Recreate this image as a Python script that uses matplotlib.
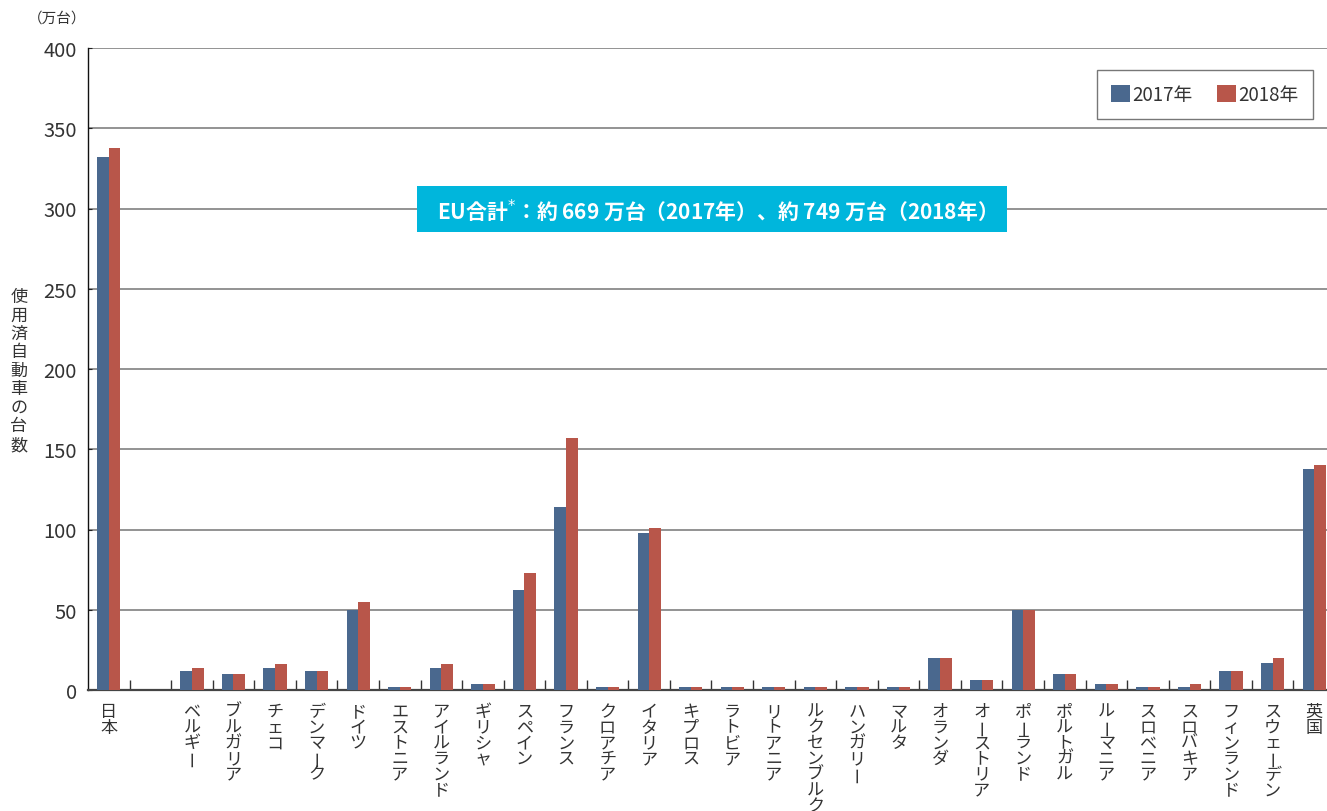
import matplotlib
matplotlib.use("Agg")
import matplotlib.pyplot as plt
import matplotlib.transforms as mtransforms
from matplotlib.patches import Rectangle
from matplotlib.textpath import TextPath
from matplotlib.font_manager import FontProperties
import numpy as np

plt.rcParams['font.family'] = ['Noto Sans CJK JP', 'DejaVu Sans']

countries = ["日本", "", "ベルギー", "ブルガリア", "チェコ", "デンマーク", "ドイツ", "エストニア",
             "アイルランド", "ギリシャ", "スペイン", "フランス", "クロアチア", "イタリア", "キプロス",
             "ラトビア", "リトアニア", "ルクセンブルク", "ハンガリー", "マルタ", "オランダ",
             "オーストリア", "ポーランド", "ポルトガル", "ルーマニア", "スロベニア", "スロバキア",
             "フィンランド", "スウェーデン", "英国"]
v2017 = [332, None, 12, 10, 14, 12, 50, 2, 14, 4, 62, 114, 2, 98, 2, 2, 2, 2, 2, 2, 20, 6, 50, 10, 4, 2, 2, 12, 17, 138]
v2018 = [338, None, 14, 10, 16, 12, 55, 2, 16, 4, 73, 157, 2, 101, 2, 2, 2, 2, 2, 2, 20, 6, 50, 10, 4, 2, 4, 12, 20, 140]
series_labels = ["2017年", "2018年"]
yticks = [0, 50, 100, 150, 200, 250, 300, 350, 400]
ylabel = "使用済自動車の台数"
unit = "（万台）"
note = "EU合計$^{*}$：約 669 万台（2017年）、約 749 万台（2018年）"

C17 = "#4A688E"
C18 = "#B8564A"
CYAN = "#00B6DC"
TXT = "#333333"

W, H = 1327, 812
fig = plt.figure(figsize=(W / 100, H / 100), dpi=100)
# axes pixel box: left 88, right 1335 (beyond edge), top 49, bottom 691
ax = fig.add_axes([88 / W, 1 - 691 / H, (1335 - 88) / W, (691 - 49) / H])

n = len(countries)
x = np.arange(n)
bw = 0.28
a = np.array([np.nan if v is None else v for v in v2017], dtype=float)
b = np.array([np.nan if v is None else v for v in v2018], dtype=float)
ax.bar(x - bw / 2, a, bw, color=C17, label=series_labels[0], zorder=3)
ax.bar(x + bw / 2, b, bw, color=C18, label=series_labels[1], zorder=3)

ax.set_xlim(-0.5, n - 0.5)
ax.set_ylim(0, 400)
ax.set_yticks(yticks)
ax.set_yticklabels([str(t) for t in yticks], fontsize=14.5, color=TXT)
ax.yaxis.grid(True, color="#8a8a8a", linewidth=1.3, zorder=0)
ax.set_axisbelow(True)
ax.tick_params(axis='y', direction='in', length=3, width=0.8, pad=8, colors="#222222")
ax.tick_params(axis='y', labelcolor=TXT)

ax.set_xticks(x)
ax.set_xticklabels([""] * n)
ax.tick_params(axis='x', which='major', length=0)
ax.set_xticks(np.arange(0.5, n - 0.5, 1.0), minor=True)
ax.tick_params(axis='x', which='minor', direction='in', length=7, width=1.0, color="#333333")

for s in ['top', 'right']:
    ax.spines[s].set_visible(False)
ax.spines['left'].set_color("#111111")
ax.spines['left'].set_linewidth(1.0)
ax.spines['bottom'].set_color("#444444")
ax.spines['bottom'].set_linewidth(1.6)

# vertical (stacked) category labels
FS = 12.3
base = mtransforms.blended_transform_factory(ax.transData, ax.transAxes)
pitch = 15.7
# ink centre of the long-vowel mark, used to centre it once turned upright
ext = TextPath((0, 0), "ー", size=FS, prop=FontProperties(family='Noto Sans CJK JP')).get_extents()
uc = (ext.x0 + ext.x1) / 2
vc = (ext.y0 + ext.y1) / 2
for i, lab in enumerate(countries):
    for j, ch in enumerate(lab):
        off = -(13 + pitch * j + pitch / 2) * 0.72
        if ch == "ー":
            tr = mtransforms.offset_copy(base, fig=fig, x=vc, y=off - uc, units='points')
            ax.text(i, 0, ch, transform=tr, ha='left', va='baseline', fontsize=FS,
                    color=TXT, rotation=90, rotation_mode='anchor', clip_on=False)
        else:
            tr = mtransforms.offset_copy(base, fig=fig, x=0, y=off, units='points')
            ax.text(i, 0, ch, transform=tr, ha='center', va='center', fontsize=FS,
                    color=TXT, clip_on=False)

# y label stacked
for j, ch in enumerate(ylabel):
    fig.text(19 / W, 1 - (297 + 18.5 * j) / H, ch, ha='center', va='center',
             fontsize=12.3, color=TXT)
fig.text(57 / W, 1 - 19 / H, unit, ha='center', va='center', fontsize=10.5, color=TXT)

# legend
leg = ax.legend(loc='upper right', bbox_to_anchor=((1313 - 88) / (1335 - 88), 1 - (71 - 49) / (691 - 49)),
                ncol=2, frameon=True, fancybox=False, fontsize=13.5, handlelength=1.0,
                handleheight=1.0, handletextpad=0.15, columnspacing=1.3, borderpad=0.75,
                borderaxespad=0)
leg.get_frame().set_edgecolor("#555555")
leg.get_frame().set_linewidth(1.0)
for t in leg.get_texts():
    t.set_color(TXT)

# EU total note box
fig.patches.append(Rectangle((417 / W, 1 - 233 / H), (1007 - 417) / W, (233 - 187) / H,
                             transform=fig.transFigure, facecolor=CYAN, edgecolor='none', zorder=5))
fig.text(712 / W, 1 - 211 / H, note, ha='center', va='center', fontsize=15,
         fontweight='bold', color='white', zorder=6)

fig.savefig("out.png", dpi=100)
